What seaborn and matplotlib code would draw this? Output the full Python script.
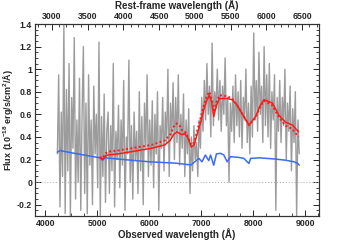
import numpy as np
import pandas as pd
import matplotlib
matplotlib.use("Agg")
import matplotlib.pyplot as plt
from matplotlib.ticker import MultipleLocator, FormatStrFormatter
import seaborn as sns

# observed spectrum (noisy), 25 A steps from 4230 to 8880
spec_flux = [
    0.25, 0.95, -0.22, 0.62, 0.05, 1.40, -0.28, 0.82, 0.10, 1.05, -0.30, 0.75, 0.30, 1.28, -0.15, 0.55, 0.00, 0.92, -0.25,
    0.60, 1.20, -0.10, 0.70, -0.28, 0.95, 0.15, 0.55, -0.20, 0.85, 0.25, 0.60, -0.05, 1.24, -0.30, 0.58, 0.05, 0.78, -0.18, 0.45,
    0.62, -0.10, 0.50, 0.10, 1.05, -0.22, 0.45, 0.20, 0.68, -0.05, 0.55, 0.15, 0.90, -0.25, 0.40, 0.25,
    1.08, 0.00, 0.50, -0.15, 0.62, 0.20, 0.45, -0.10, 0.80, 0.10, 0.58, -0.20, 0.70, 0.30, 0.95, 0.05,
    0.55, 0.15, 0.72, -0.05, 0.60, 0.25, 0.80, -0.25, 0.50, 0.30, 0.75, 0.10, 0.62, 0.35, 1.00, 0.05,
    0.70, 0.40, 0.88, 0.20, 0.75, 0.35, 0.95, 0.15, 0.60, 0.30, 0.78, 0.05, 0.55, 0.25, 0.65, -0.10,
    0.40, 0.10, 0.50, 0.20, 0.35, 0.05, 0.55, 0.30,
    0.75, 0.45, 0.90, 0.55, 1.05, 0.60, 0.85, 0.40, 1.23, 0.50, 0.80, 0.65, 1.00, 0.55, 0.90, 0.45, 0.85, 0.60, 1.10, 0.50,
    0.75, 0.00, 0.70, 0.45, 0.85, 0.35, 0.95, 0.50, 0.80, 0.40, 0.90, 0.30, 0.75, 0.55, 1.00, 0.35, 0.70, 0.25, 0.85, 0.40,
    1.32, 0.55, 0.90, 0.45, 1.15, 0.60, 0.85, 0.35, 1.20, 0.50, 0.95, 0.40, 1.05, 0.30, 0.80, 0.55, 0.95, -0.25, 0.75, 0.45,
    0.90, 0.35, 0.75, 0.50, 1.00, 0.20, 0.70, 0.45, 0.85, 0.10, 0.65, 0.35, 0.80, -0.30, 0.55, 0.25,
]
spec_wave = np.linspace(4230, 8880, len(spec_flux))

# stellar template (blue)
blue_wave = [4230, 4280, 4330, 4500, 4800, 5050, 5100, 5150, 5500, 6000, 6500, 6800, 6950, 7010, 7075,
             7140, 7175, 7236, 7288, 7366, 7430, 7494, 7558, 7700, 7816, 7913, 7945, 8120, 8400, 8600,
             8780, 8850, 8880]
blue_flux = [0.265, 0.28, 0.275, 0.26, 0.235, 0.215, 0.195, 0.215, 0.20, 0.18, 0.168, 0.152, 0.21, 0.18, 0.24,
             0.19, 0.24, 0.15, 0.25, 0.255, 0.24, 0.18, 0.225, 0.22, 0.21, 0.165, 0.21, 0.215, 0.205, 0.195,
             0.18, 0.165, 0.15]

# total models (red solid / red dotted)
red_wave = [5050, 5100, 5150, 5200, 5400, 5660, 6046, 6297, 6400, 6465, 6530, 6580, 6625, 6680, 6740,
            6805, 6860, 6915, 6980, 7044, 7100, 7153, 7200, 7236, 7290, 7345, 7494, 7590, 7687, 7816,
            7913, 8040, 8130, 8203, 8363, 8492, 8620, 8749, 8865]
red_solid = [0.22, 0.20, 0.23, 0.24, 0.25, 0.27, 0.30, 0.33, 0.37, 0.42, 0.445, 0.43, 0.42, 0.43, 0.39,
             0.31, 0.33, 0.42, 0.52, 0.64, 0.72, 0.77, 0.70, 0.58, 0.68, 0.74, 0.74, 0.73, 0.68, 0.58,
             0.505, 0.58, 0.68, 0.73, 0.70, 0.59, 0.53, 0.505, 0.445]
red_dotted = [0.22, 0.21, 0.25, 0.27, 0.28, 0.30, 0.33, 0.37, 0.42, 0.49, 0.52, 0.50, 0.46, 0.45, 0.40,
              0.33, 0.35, 0.45, 0.56, 0.68, 0.76, 0.80, 0.73, 0.62, 0.71, 0.77, 0.76, 0.74, 0.68, 0.58,
              0.505, 0.57, 0.67, 0.72, 0.68, 0.57, 0.50, 0.47, 0.40]

one_plus_z = 1.375
x_lim = (3800, 9260)
y_lim = (-0.3, 1.4)

sns.set_style("ticks")
plt.rcParams["font.family"] = ["Liberation Sans", "DejaVu Sans"]
plt.rcParams["font.weight"] = "bold"
plt.rcParams["mathtext.default"] = "regular"
plt.rcParams["axes.linewidth"] = 0.8

fig = plt.figure(figsize=(3.55, 2.40), dpi=100)
ax = fig.add_axes([0.0986, 0.10, 0.80, 0.80])

ax.axhline(0, color="#b5b5b5", ls=":", lw=0.8, zorder=1)
sns.lineplot(x=spec_wave, y=spec_flux, ax=ax, color="#9c9c9c", lw=1.0, estimator=None, sort=False, zorder=2)
sns.lineplot(x=blue_wave, y=blue_flux, ax=ax, color="#3a6cf4", lw=1.1, estimator=None, sort=False, zorder=3)
sns.lineplot(x=red_wave, y=red_dotted, ax=ax, color="#ff1a1a", lw=1.4, ls=(0, (1, 1.2)),
             estimator=None, sort=False, zorder=4)
sns.lineplot(x=red_wave, y=red_solid, ax=ax, color="#ff1a1a", lw=1.1, estimator=None, sort=False, zorder=5)

ax.set_xlim(*x_lim)
ax.set_ylim(*y_lim)
ax.xaxis.set_major_locator(MultipleLocator(1000))
ax.xaxis.set_minor_locator(MultipleLocator(250))
ax.yaxis.set_major_locator(MultipleLocator(0.2))
ax.yaxis.set_minor_locator(MultipleLocator(0.05))
ax.yaxis.set_major_formatter(FormatStrFormatter("%g"))
ax.tick_params(which="both", direction="in", top=False, right=True, labelsize=6.3, pad=2)
ax.tick_params(which="major", length=4, width=0.7)
ax.tick_params(which="minor", length=2, width=0.6)
for lab in ax.get_xticklabels() + ax.get_yticklabels():
    lab.set_fontweight("bold")

ax.set_xlabel("Observed wavelength (Å)", fontsize=7, fontweight="bold", labelpad=0)
ax.set_ylabel("Flux (10$^{-18}$ erg/s/cm$^2$/Å)", fontsize=6.5, fontweight="bold")
ax.yaxis.set_label_coords(-0.07, 0.5)

top = ax.twiny()
top.set_xlim(x_lim[0] / one_plus_z, x_lim[1] / one_plus_z)
top.xaxis.set_major_locator(MultipleLocator(500))
top.xaxis.set_minor_locator(MultipleLocator(100))
top.tick_params(which="both", direction="in", labelsize=6.3, pad=2)
top.tick_params(which="major", length=4, width=0.7)
top.tick_params(which="minor", length=2, width=0.6)
for lab in top.get_xticklabels():
    lab.set_fontweight("bold")
top.set_xlabel("Rest-frame wavelength (Å)", fontsize=7, fontweight="bold", labelpad=2)

for a in (ax, top):
    for s in a.spines.values():
        s.set_color("#333333")

fig.savefig("out.png", dpi=100)
